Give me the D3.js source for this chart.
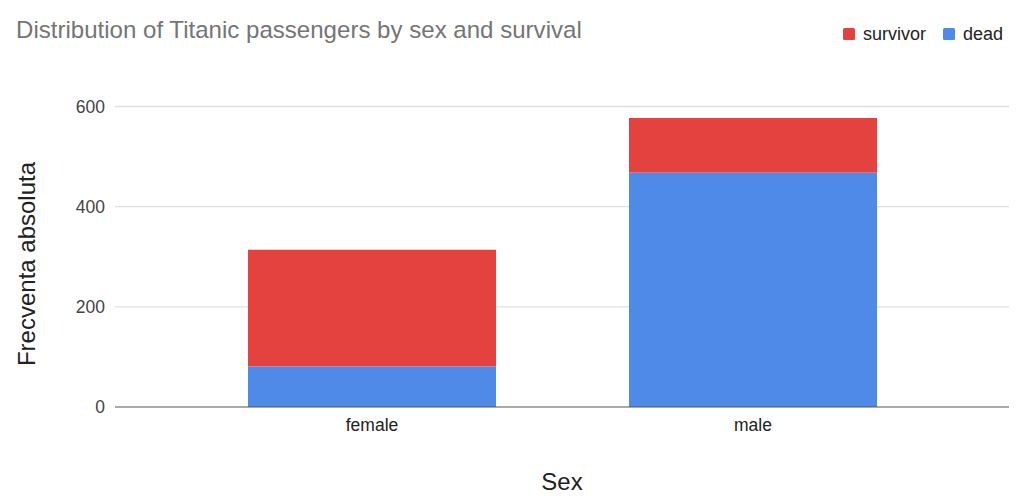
<!DOCTYPE html>
<html>
<head>
<meta charset="utf-8">
<script src="https://cdn.jsdelivr.net/npm/d3@7"></script>
<style>
  html, body { margin: 0; padding: 0; background: #fff; }
  svg { display: block; font-family: "Liberation Sans", Arial, sans-serif; }
</style>
</head>
<body>
<svg id="chart" width="1024" height="499"></svg>
<script>
const categories = ["female", "male"];
const seriesNames = ["dead", "survivor"];
const dead = [81, 468];
const survivor = [233, 109];
const yTicks = [0, 200, 400, 600];
const colors = { dead: "#4f8ae9", survivor: "#e4423e" };
const titleText = "Distribution of Titanic passengers by sex and survival";
const xTitle = "Sex";
const yTitle = "Frecventa absoluta";

const svg = d3.select("#chart");
const rows = categories.map((c, i) => ({ cat: c, dead: dead[i], survivor: survivor[i] }));
const stacked = d3.stack().keys(seriesNames)(rows);

const y = d3.scaleLinear().domain([0, 600]).range([407, 106.5]);
const x = d3.scaleBand().domain(categories).range([181.5, 943.5]).paddingInner(0.349).paddingOuter(0.1745);
const gridX0 = 115, gridX1 = 1009;

// gridlines
const yAxis = d3.axisLeft(y).tickValues(yTicks).tickSize(0).tickPadding(10);
const gY = svg.append("g").attr("transform", `translate(${gridX0},0)`).call(yAxis);
gY.select(".domain").remove();
gY.selectAll("text").attr("font-size", "17.5px").attr("fill", "#444").attr("font-family", "Liberation Sans, Arial, sans-serif");
svg.append("g").selectAll("line").data(yTicks.filter(t => t !== 0)).join("line")
  .attr("x1", gridX0).attr("x2", gridX1)
  .attr("y1", d => y(d)).attr("y2", d => y(d))
  .attr("stroke", "#e0e0e0").attr("stroke-width", 1.3);

// bars
svg.append("g").selectAll("g").data(stacked).join("g")
  .attr("fill", d => colors[d.key])
  .selectAll("rect").data(d => d).join("rect")
  .attr("x", d => x(d.data.cat))
  .attr("width", x.bandwidth())
  .attr("y", d => y(d[1]))
  .attr("height", d => y(d[0]) - y(d[1]));

// baseline
svg.append("line").attr("x1", gridX0).attr("x2", gridX1)
  .attr("y1", y(0)).attr("y2", y(0)).attr("stroke", "#555").attr("stroke-width", 1.2);

// x axis labels
const xAxis = d3.axisBottom(x).tickSize(0).tickPadding(0);
const gX = svg.append("g").attr("transform", `translate(0,${y(0)})`).call(xAxis);
gX.select(".domain").remove();
gX.selectAll("text").attr("font-size", "17.5px").attr("fill", "#222")
  .attr("font-family", "Liberation Sans, Arial, sans-serif")
  .attr("dy", null).attr("y", 24);

// title (sized to span the same width as the reference)
const title = svg.append("text").attr("x", 16).attr("y", 38).text(titleText)
  .attr("font-size", "22px").attr("fill", "#757575");
const tw = title.node().getComputedTextLength();
if (tw > 0) title.attr("font-size", (22 * 566 / tw).toFixed(2) + "px");

// axis titles
svg.append("text").attr("x", 562).attr("y", 490).attr("text-anchor", "middle")
  .attr("font-size", "24px").attr("fill", "#222").text(xTitle);
svg.append("text").attr("transform", "translate(35,264) rotate(-90)").attr("text-anchor", "middle")
  .attr("font-size", "24px").attr("fill", "#222").text(yTitle);

// legend
const legendItems = [
  { name: "survivor", color: colors.survivor, x: 843 },
  { name: "dead", color: colors.dead, x: 943 }
];
const lg = svg.append("g").selectAll("g").data(legendItems).join("g")
  .attr("transform", d => `translate(${d.x},0)`);
lg.append("rect").attr("x", 0).attr("y", 28).attr("width", 12).attr("height", 12)
  .attr("rx", 1.5).attr("fill", d => d.color);
lg.append("text").attr("x", 20).attr("y", 39.5).attr("font-size", "18px").attr("fill", "#222").text(d => d.name);
</script>
</body>
</html>
